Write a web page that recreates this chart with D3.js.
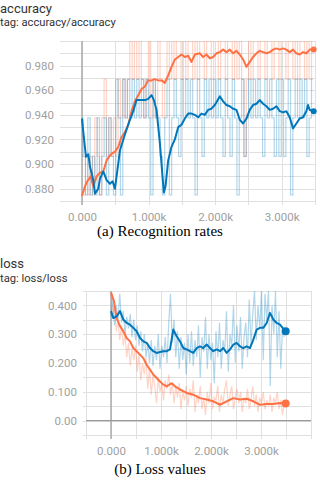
<!DOCTYPE html>
<html>
<head>
<meta charset="utf-8">
<script src="https://cdn.jsdelivr.net/npm/d3@7"></script>
<style>
  body { margin: 0; background: #fff; }
  svg { display: block; }
</style>
</head>
<body>
<script>
// accuracy: raw values in 32nds (batch of 32), logged every 35 steps
var rawStep = 35;
var accBlueRaw32 = [30,29,28,30,28,29,28,30,28,29, 30,28,30,29,28,31,30,28,31,30,
  31,30,31,30,31,30,31,30,31,30, 28,31,30,30,29,28,30,31,28,30,
  31,30,29,31,30,31,30,31,30,28, 31,30,29,31,30,31,30,31,30,31,
  30,29,31,30,29,31,30,28,30,31, 29,30,31,30,31,30,31,30,29,31,
  30,31,30,29,31,29,31,29,30,31, 28,30,31,30,31,30,31,29,30,31];
var accOrangeRaw32 = [28,28,29,28,29,28,30,29,28,30, 31,29,30,29,30,29,31,30,31,30,
  31,32,31,32,31,32,31,30,31,32, 30,31,30,32,31,30,31,32,31,32,
  31,32,32,31,32,31,32,32,31,32, 31,32,32,31,32,32,31,32,32,31,
  32,32,31,32,32,31,32,31,32,31, 29,31,32,31,32,32,31,32,32,31,
  32,32,31,32,32,31,32,32,31,32, 32,31,32,31,32,32,31,32,31,32];

var accBlueSteps = [0,20,60,95,120,170,195,245,270,320,370,420,460,495,520,570,645,720,770,820,
  870,945,995,1045,1080,1120,1170,1205,1230,1255,1295,1345,1395,1445,1495,1545,1595,1645,1695,1745,
  1795,1845,1895,1945,1995,2070,2120,2170,2220,2270,2320,2370,2420,2470,2520,2570,2620,2670,2720,2770,
  2820,2870,2920,2970,3020,3070,3120,3170,3220,3270,3320,3370,3395,3420,3480];
var accBlue = [0.937,0.926,0.906,0.908,0.898,0.887,0.876,0.880,0.888,0.894,0.887,0.884,0.886,0.880,0.890,0.911,0.924,0.936,0.943,0.952,
  0.952,0.952,0.953,0.956,0.952,0.944,0.917,0.893,0.877,0.882,0.903,0.914,0.920,0.930,0.932,0.937,0.941,0.941,0.940,0.938,
  0.941,0.940,0.944,0.945,0.948,0.955,0.951,0.948,0.947,0.945,0.944,0.936,0.933,0.937,0.944,0.948,0.949,0.952,0.949,0.947,
  0.944,0.945,0.947,0.943,0.942,0.943,0.938,0.929,0.933,0.937,0.938,0.943,0.948,0.944,0.943];

var accOrangeSteps = [0,45,80,130,170,220,270,320,370,420,460,495,545,595,645,695,745,795,845,895,
  945,995,1045,1095,1145,1195,1245,1295,1345,1395,1445,1495,1545,1595,1645,1695,1770,1820,1870,1920,
  1970,2020,2070,2120,2170,2220,2270,2320,2370,2420,2470,2520,2570,2620,2670,2720,2770,2820,2870,2920,
  2970,3020,3070,3120,3170,3220,3270,3320,3370,3420,3480];
var accOrange = [0.874,0.882,0.886,0.890,0.882,0.890,0.893,0.894,0.903,0.907,0.909,0.910,0.914,0.922,0.926,0.932,0.943,0.951,0.956,0.961,
  0.963,0.968,0.968,0.969,0.968,0.968,0.966,0.972,0.979,0.985,0.987,0.989,0.987,0.988,0.983,0.989,0.990,0.987,0.989,0.986,
  0.987,0.990,0.991,0.993,0.991,0.993,0.990,0.992,0.989,0.985,0.979,0.983,0.987,0.990,0.992,0.991,0.990,0.991,0.993,0.994,
  0.993,0.994,0.993,0.991,0.993,0.990,0.989,0.991,0.990,0.993,0.993];

// loss
var lossBlueRaw = [0.36,0.42,0.33,0.40,0.35,0.44,0.34,0.38,0.30,0.36, 0.32,0.37,0.29,0.35,0.28,0.33,0.26,0.31,0.24,0.30,
  0.22,0.27,0.20,0.28,0.19,0.26,0.21,0.30,0.18,0.26, 0.22,0.29,0.20,0.34,0.44,0.27,0.35,0.22,0.31,0.18,
  0.29,0.21,0.27,0.16,0.30,0.20,0.31,0.19,0.28,0.22, 0.33,0.15,0.29,0.24,0.36,0.18,0.30,0.21,0.27,0.13,
  0.31,0.22,0.34,0.18,0.28,0.24,0.38,0.17,0.30,0.26, 0.40,0.20,0.33,0.24,0.36,0.18,0.29,0.34,0.22,0.42,
  0.26,0.37,0.45,0.28,0.40,0.32,0.45,0.21,0.44,0.35, 0.45,0.12,0.40,0.30,0.45,0.22,0.38,0.18,0.32,0.29];
var lossOrangeRaw = [0.44,0.36,0.40,0.31,0.35,0.28,0.33,0.26,0.30,0.22, 0.27,0.19,0.25,0.21,0.26,0.17,0.23,0.14,0.20,0.16,
  0.22,0.11,0.18,0.09,0.16,0.12,0.06,0.15,0.10,0.13, 0.07,0.14,0.11,0.16,0.09,0.13,0.06,0.12,0.08,0.13,
  0.04,0.10,0.07,0.12,0.05,0.11,0.08,0.14,0.03,0.09, 0.06,0.12,0.04,0.08,0.02,0.10,0.06,0.13,0.04,0.08,
  0.07,0.12,0.03,0.09,0.06,0.11,0.14,0.05,0.09,0.12, 0.04,0.08,0.11,0.06,0.10,0.03,0.08,0.06,0.11,0.04,
  0.07,0.12,0.05,0.09,0.03,0.08,0.06,0.10,0.04,0.07, 0.05,0.09,0.03,0.08,0.06,0.10,0.04,0.07,0.02,0.06];

var lossBlueSteps = [0,46,113,180,246,313,380,446,513,580,646,713,780,846,913,980,1046,1113,1180,1246,
  1313,1380,1446,1513,1580,1646,1713,1780,1846,1913,1980,2046,2113,2180,2246,2313,2380,2446,2513,2580,
  2646,2713,2780,2846,2913,2980,3046,3113,3180,3246,3313,3380,3433,3493];
var lossBlue = [0.380,0.356,0.362,0.380,0.351,0.339,0.333,0.322,0.310,0.287,0.275,0.270,0.252,0.241,0.235,0.238,0.241,0.241,0.247,0.316,
  0.293,0.275,0.252,0.247,0.241,0.235,0.252,0.258,0.252,0.264,0.252,0.241,0.247,0.241,0.252,0.235,0.247,0.264,0.270,0.258,
  0.252,0.258,0.252,0.281,0.316,0.322,0.322,0.339,0.374,0.351,0.339,0.333,0.322,0.310];

var lossOrangeSteps = [0,60,113,180,246,313,380,446,513,580,646,713,780,846,913,980,1046,1113,1213,1280,
  1380,1513,1646,1780,1913,2046,2180,2313,2446,2580,2713,2846,2980,3113,3246,3380,3493];
var lossOrange = [0.445,0.414,0.356,0.328,0.310,0.287,0.275,0.252,0.241,0.229,0.217,0.194,0.177,0.160,0.148,0.136,0.125,0.119,0.130,0.119,
  0.108,0.096,0.090,0.078,0.073,0.067,0.055,0.067,0.078,0.073,0.076,0.067,0.055,0.058,0.058,0.061,0.059];

var accXTicks = [0, 1000, 2000, 3000];
var accYTicks = [0.88, 0.90, 0.92, 0.94, 0.96, 0.98];
var lossXTicks = [0, 1000, 2000, 3000];
var lossYTicks = [0, 0.1, 0.2, 0.3, 0.4];

var blue = "#0077bb", orange = "#ff7043";

var svg = d3.select("body").append("svg")
  .attr("width", 320)
  .attr("height", 480)
  .style("font-family", "Roboto, sans-serif");

function stepLabel(d) {
  return d === 0 ? "0.000" : d3.format(".3f")(d / 1000) + "k";
}

function toPairs(steps, vals) {
  return steps.map(function (s, i) { return [s, vals[i]]; });
}
function rawPairs(vals, scale) {
  return vals.map(function (v, i) { return [i * rawStep, v * scale]; });
}

function drawChart(o) {
  var g = svg.append("g");
  var x = d3.scaleLinear().domain(o.xDomain).range(o.xRange);
  var y = d3.scaleLinear().domain(o.yDomain).range(o.yRange);

  g.append("text").attr("x", 0).attr("y", o.titleY)
    .attr("font-size", 13).attr("fill", "#333").text(o.title);
  g.append("text").attr("x", 0).attr("y", o.tagY)
    .attr("font-size", 11.2).attr("fill", "#333").text(o.tag);

  // grid
  var grid = g.append("g").attr("stroke", "#e0e0e0").attr("stroke-width", 1);
  grid.selectAll(".gx").data(o.xGrid).enter().append("line")
    .attr("x1", function (d) { return Math.round(x(d)) + 0.5; })
    .attr("x2", function (d) { return Math.round(x(d)) + 0.5; })
    .attr("y1", o.yRange[1]).attr("y2", o.yRange[0] + 4);
  grid.selectAll(".gy").data(o.yGrid).enter().append("line")
    .attr("y1", function (d) { return Math.round(y(d)) + 0.5; })
    .attr("y2", function (d) { return Math.round(y(d)) + 0.5; })
    .attr("x1", o.xRange[0] - 3).attr("x2", o.xRange[1]);

  // zero lines
  g.append("line").attr("stroke", "#9a9a9a").attr("stroke-width", 1.2)
    .attr("x1", x(0)).attr("x2", x(0))
    .attr("y1", o.yRange[1]).attr("y2", o.yRange[0] + 4);
  if (o.yDomain[0] < 0) {
    g.append("line").attr("stroke", "#9a9a9a").attr("stroke-width", 1.2)
      .attr("x1", o.xRange[0]).attr("x2", o.xRange[1])
      .attr("y1", y(0)).attr("y2", y(0));
  }

  // axes labels
  var ya = g.append("g").attr("transform", "translate(" + (o.xRange[0] - 6) + ",0)")
    .call(d3.axisLeft(y).tickValues(o.yTicks).tickSize(0).tickFormat(o.yFormat));
  var xa = g.append("g").attr("transform", "translate(0," + (o.yRange[0] + 9) + ")")
    .call(d3.axisBottom(x).tickValues(o.xTicks).tickSize(0).tickFormat(stepLabel));
  [ya, xa].forEach(function (a) {
    a.select(".domain").remove();
    a.selectAll("text").attr("fill", "#a0a0a0").attr("font-size", 11.5)
      .style("font-family", "Roboto, sans-serif");
  });

  var clipId = "clip-" + o.title;
  g.append("clipPath").attr("id", clipId).append("rect")
    .attr("x", o.xRange[0]).attr("y", o.yRange[1])
    .attr("width", o.xRange[1] - o.xRange[0])
    .attr("height", o.yRange[0] - o.yRange[1]);

  var line = d3.line().x(function (d) { return x(d[0]); }).y(function (d) { return y(d[1]); });
  var rawLine = d3.line().curve(o.rawCurve)
    .x(function (d) { return x(d[0]); }).y(function (d) { return y(d[1]); });
  var plot = g.append("g").attr("clip-path", "url(#" + clipId + ")");

  o.series.forEach(function (s) {
    plot.append("path").datum(s.raw).attr("d", rawLine)
      .attr("fill", "none").attr("stroke", s.color)
      .attr("stroke-opacity", 0.3).attr("stroke-width", 1.2);
  });
  o.series.forEach(function (s) {
    plot.append("path").datum(s.smooth).attr("d", line)
      .attr("fill", "none").attr("stroke", s.color)
      .attr("stroke-width", 2).attr("stroke-linejoin", "round");
    var last = s.smooth[s.smooth.length - 1];
    g.append("circle").attr("cx", x(last[0])).attr("cy", y(last[1]))
      .attr("r", o.dotR).attr("fill", s.color);
  });

  svg.append("text").attr("x", 160).attr("y", o.captionY)
    .attr("text-anchor", "middle")
    .attr("font-family", "'Liberation Serif', 'Times New Roman', serif")
    .attr("font-size", 15).attr("fill", "#000").text(o.caption);
}

drawChart({
  title: "accuracy", tag: "tag: accuracy/accuracy", titleY: 12.5, tagY: 26,
  xDomain: [-285, 3500], xRange: [63, 315],
  yDomain: [0.87, 1.0], yRange: [201, 41],
  xGrid: d3.range(0, 3501, 500), yGrid: d3.range(87, 101).map(function (d) { return d / 100; }),
  xTicks: accXTicks, yTicks: accYTicks, yFormat: d3.format(".3f"),
  dotR: 3, rawCurve: d3.curveStep,
  series: [
    { color: orange, raw: rawPairs(accOrangeRaw32, 1 / 32), smooth: toPairs(accOrangeSteps, accOrange) },
    { color: blue, raw: rawPairs(accBlueRaw32, 1 / 32), smooth: toPairs(accBlueSteps, accBlue) }
  ],
  caption: "(a) Recognition rates", captionY: 236
});

drawChart({
  title: "loss", tag: "tag: loss/loss", titleY: 268, tagY: 282,
  xDomain: [-500, 4000], xRange: [86, 311],
  yDomain: [-0.05, 0.45], yRange: [435, 291],
  xGrid: d3.range(-500, 4001, 500), yGrid: d3.range(-5, 46, 5).map(function (d) { return d / 100; }),
  xTicks: lossXTicks, yTicks: lossYTicks,
  yFormat: function (d) { return d === 0 ? "0.00" : d3.format(".3f")(d); },
  dotR: 4, rawCurve: d3.curveLinear,
  series: [
    { color: orange, raw: rawPairs(lossOrangeRaw, 1), smooth: toPairs(lossOrangeSteps, lossOrange) },
    { color: blue, raw: rawPairs(lossBlueRaw, 1), smooth: toPairs(lossBlueSteps, lossBlue) }
  ],
  caption: "(b) Loss values", captionY: 474
});
</script>
</body>
</html>
